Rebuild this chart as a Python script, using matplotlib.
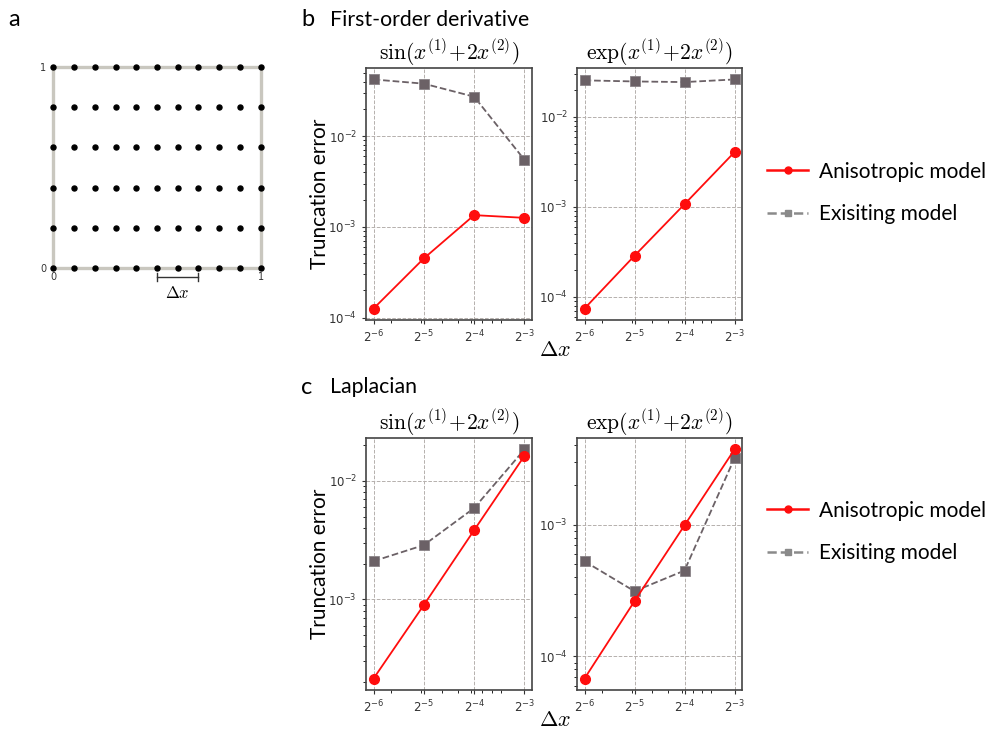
import numpy as np
import matplotlib
matplotlib.use("Agg")
import matplotlib.pyplot as plt
from matplotlib.lines import Line2D
from matplotlib.ticker import FixedLocator, FixedFormatter, NullFormatter

plt.rcParams['mathtext.fontset'] = 'cm'

# ---------------- data ----------------
dx = [2**-6, 2**-5, 2**-4, 2**-3]
dx_labels = [r'$\mathdefault{2^{-6}}$', r'$\mathdefault{2^{-5}}$',
             r'$\mathdefault{2^{-4}}$', r'$\mathdefault{2^{-3}}$']

titles = [r'$\sin(x^{(1)}\!+\!2x^{(2)})$', r'$\exp(x^{(1)}\!+\!2x^{(2)})$']

# First-order derivative
fo_sin_aniso = [1.26e-4, 4.5e-4, 1.35e-3, 1.26e-3]
fo_sin_exist = [0.0423, 0.038, 0.0273, 0.0055]
fo_exp_aniso = [7.4e-5, 2.86e-4, 1.07e-3, 4.06e-3]
fo_exp_exist = [0.0255, 0.0248, 0.0244, 0.0261]

# Laplacian
lap_sin_aniso = [2.14e-4, 8.95e-4, 3.84e-3, 0.0163]
lap_sin_exist = [2.1e-3, 2.87e-3, 5.9e-3, 0.01845]
lap_exp_aniso = [6.8e-5, 2.63e-4, 9.9e-4, 3.73e-3]
lap_exp_exist = [5.28e-4, 3.13e-4, 4.49e-4, 3.2e-3]

legend_labels = ['Anisotropic model', 'Exisiting model']

# panel a grid
grid_x = np.linspace(0, 1, 11)
grid_y = np.linspace(0, 1, 6)

RED = '#ff0d0d'
GRAY = '#6b6166'
TEXTFONT = 'Lato'

W, H = 997, 729
fig = plt.figure(figsize=(W / 100, H / 100), dpi=100)


def ax_rect(l, r, t, b):
    return [l / W, 1 - b / H, (r - l) / W, (b - t) / H]


# ---------------- panel a ----------------
axa = fig.add_axes(ax_rect(53.3, 260.7, 66.7, 268.3))
gx, gy = np.meshgrid(grid_x, grid_y)
axa.plot(gx.ravel(), gy.ravel(), 'o', color='black', markersize=3.6,
         clip_on=False, zorder=3)
axa.set_xlim(0, 1)
axa.set_ylim(0, 1)
for s in axa.spines.values():
    s.set_color('#c9c7bf')
    s.set_linewidth(2.4)
axa.tick_params(length=0, labelsize=7, colors='#333333')
axa.tick_params(axis='y', pad=5)
axa.tick_params(axis='x', pad=3)
axa.set_xticks([0, 1])
axa.set_yticks([0, 1])
axa.set_xticklabels(['0', '1'])
axa.set_yticklabels(['0', '1'])
# delta x bracket
by = -0.045
axa.plot([grid_x[5], grid_x[7]], [by, by], color='#333333', lw=1.0, clip_on=False)
for xx in (grid_x[5], grid_x[7]):
    axa.plot([xx, xx], [by - 0.02, by + 0.02], color='#333333', lw=1.0, clip_on=False)
axa.text(0.6, by - 0.035, r'$\Delta x$', ha='center', va='top', fontsize=12,
         transform=axa.transData)

# ---------------- panels b, c ----------------
x_left = (366, 532)
x_right = (577, 742)
rows = [(68, 320), (438, 690)]
legend_centers = [193, 532]
data = [
    [(fo_sin_aniso, fo_sin_exist), (fo_exp_aniso, fo_exp_exist)],
    [(lap_sin_aniso, lap_sin_exist), (lap_exp_aniso, lap_exp_exist)],
]

for ri, (t, b) in enumerate(rows):
    for ci, (l, r) in enumerate([x_left, x_right]):
        ax = fig.add_axes(ax_rect(l, r, t, b))
        an, ex = data[ri][ci]
        ax.plot(dx, ex, '--s', color=GRAY, markersize=6.5, lw=1.3,
                markeredgecolor='#8a8387', markeredgewidth=0.6, zorder=3)
        ax.plot(dx, an, '-o', color=RED, markersize=7, lw=1.3, zorder=4)
        ax.set_xscale('log')
        ax.set_yscale('log')
        ax.xaxis.set_major_locator(FixedLocator(dx))
        ax.xaxis.set_major_formatter(FixedFormatter(dx_labels))
        ax.xaxis.set_minor_formatter(NullFormatter())
        ax.grid(True, which='major', ls='--', color='#b5b0ad', lw=0.7)
        ax.tick_params(labelsize=8.5, colors='#333333', length=3, width=0.8)
        ax.tick_params(which='minor', length=2, width=0.6)
        for s in ax.spines.values():
            s.set_color('#444444')
            s.set_linewidth(1.2)
        ax.set_title(titles[ci], fontsize=15.5, pad=5)

    ycen = (t + b) / 2
    fig.text(320 / W, 1 - ycen / H, 'Truncation error', rotation=90,
             ha='center', va='center', fontsize=15, family=TEXTFONT)
    fig.text(555 / W, 1 - (b + 30) / H, r'$\Delta x$', ha='center', va='center',
             fontsize=16)

    handles = [Line2D([], [], color=RED, marker='o', lw=1.8, markersize=5),
               Line2D([], [], color='#8a8a8a', marker='s', ls='--', lw=1.8, markersize=5)]
    fig.legend(handles, legend_labels, loc='center left',
               bbox_to_anchor=(748 / W, 1 - legend_centers[ri] / H), frameon=False,
               prop={'family': TEXTFONT, 'size': 15}, handlelength=2.0,
               handletextpad=0.5, labelspacing=1.1)

# panel labels
fig.text(8 / W, 1 - 20 / H, 'a', fontsize=17, family=TEXTFONT, va='center')
fig.text(301 / W, 1 - 20 / H, 'b', fontsize=17, family=TEXTFONT, va='center')
fig.text(330 / W, 1 - 20 / H, 'First-order derivative', fontsize=15.3,
         family=TEXTFONT, va='center')
fig.text(301 / W, 1 - 387 / H, 'c', fontsize=17, family=TEXTFONT, va='center')
fig.text(330 / W, 1 - 387 / H, 'Laplacian', fontsize=15.3,
         family=TEXTFONT, va='center')

fig.savefig('out.png', dpi=100)
